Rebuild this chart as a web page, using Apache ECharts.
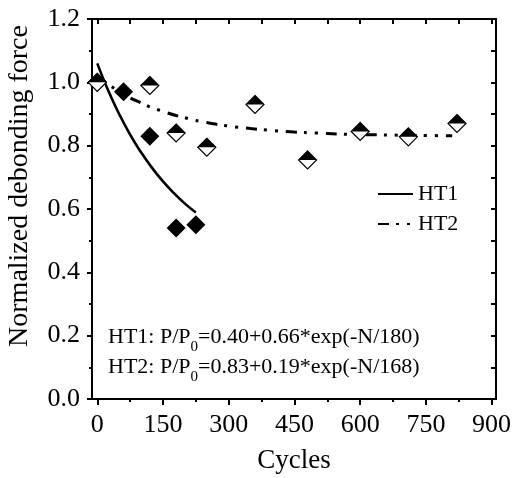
<!DOCTYPE html>
<html>
<head>
<meta charset="utf-8">
<script src="https://cdn.jsdelivr.net/npm/echarts@6/dist/echarts.min.js"></script>
<style>
  html, body { margin: 0; padding: 0; background: #fff; }
  #chart { width: 513px; height: 478px; }
</style>
</head>
<body>
<div id="chart"></div>
<script>
// Measured debonding force, normalised to the first cycle
const cyclesHT1 = [0, 60, 120, 180, 225];
const forceHT1  = [1.00, 0.97, 0.83, 0.54, 0.55];
const cyclesHT2 = [0, 120, 180, 250, 360, 480, 600, 710, 821];
const forceHT2  = [1.00, 0.99, 0.84, 0.795, 0.93, 0.755, 0.845, 0.828, 0.87];

// Exponential fits, P/P0 = 0.40+0.66*exp(-N/180) and 0.83+0.19*exp(-N/168), tabulated
const fitCyclesHT1 = [0, 25, 50, 75, 100, 125, 150, 175, 200, 225];
const fitForceHT1  = [1.060, 0.974, 0.900, 0.835, 0.779, 0.730, 0.687, 0.650, 0.617, 0.589];
const fitCyclesHT2 = [0, 50, 100, 150, 200, 250, 300, 350, 400, 450, 500, 550, 600, 650, 700, 750, 810];
const fitForceHT2  = [1.020, 0.971, 0.935, 0.908, 0.888, 0.873, 0.862, 0.854, 0.848, 0.843, 0.840, 0.837, 0.835, 0.834, 0.833, 0.832, 0.8315];

// Axis ticks
const xMajorTicks = [0, 150, 300, 450, 600, 750, 900];
const xMinorTicks = [75, 225, 375, 525, 675, 825];
const xTopTicks   = [0, 75, 150, 225, 300, 375, 450, 525, 600, 675, 750, 825, 900];
const yTickLabels = ['0.0', '0.2', '0.4', '0.6', '0.8', '1.0', '1.2'];

const zip = (a, b) => a.map((v, i) => [v, b[i]]);
const FONT = 'Liberation Serif';
const X_MIN = -12, X_MAX = 910;

const chart = echarts.init(document.getElementById('chart'), null, { renderer: 'canvas' });

const axisLineStyle = { color: '#000', width: 2 };

const formulaRich = {
  m: { fontFamily: FONT, fontSize: 22, fill: '#000', lineHeight: 30 },
  s: { fontFamily: FONT, fontSize: 15, fill: '#000', lineHeight: 30, padding: [20, 0, 0, 0] }
};

chart.setOption({
  animation: false,
  backgroundColor: '#fff',
  grid: { left: 92, right: 17, top: 19, bottom: 79, containLabel: false, outerBoundsMode: 'none' },
  legend: {
    data: ['HT1', 'HT2'],
    orient: 'vertical',
    left: 372,
    top: 178,
    itemWidth: 35,
    itemHeight: 10,
    itemGap: 8,
    itemStyle: { opacity: 0 },
    textStyle: { fontFamily: FONT, fontSize: 22, color: '#000' },
    selectedMode: false
  },
  xAxis: [
    {
      type: 'value', position: 'bottom', min: X_MIN, max: X_MAX,
      axisLine: { show: true, onZero: false, lineStyle: axisLineStyle },
      axisTick: { show: true, customValues: xMajorTicks, length: 6, lineStyle: axisLineStyle },
      axisLabel: { customValues: xMajorTicks, fontFamily: FONT, fontSize: 26, color: '#000', margin: 13 },
      splitLine: { show: false },
      name: 'Cycles', nameLocation: 'middle', nameGap: 48,
      nameTextStyle: { fontFamily: FONT, fontSize: 27, color: '#000' }
    },
    {
      type: 'value', position: 'bottom', min: X_MIN, max: X_MAX,
      axisLine: { show: false, onZero: false },
      axisTick: { show: true, customValues: xMinorTicks, length: 3, lineStyle: axisLineStyle },
      axisLabel: { show: false },
      splitLine: { show: false }
    },
    {
      type: 'value', position: 'top', min: X_MIN, max: X_MAX,
      axisLine: { show: true, onZero: false, lineStyle: axisLineStyle },
      axisTick: { show: true, inside: true, customValues: xTopTicks, length: 5, lineStyle: axisLineStyle },
      axisLabel: { show: false },
      splitLine: { show: false }
    }
  ],
  yAxis: [
    {
      type: 'value', position: 'left', min: 0, max: 1.2, interval: 0.2,
      axisLine: { show: true, onZero: false, lineStyle: axisLineStyle },
      axisTick: { show: true, length: 5, lineStyle: axisLineStyle },
      minorTick: { show: true, splitNumber: 2, length: 3, lineStyle: axisLineStyle },
      axisLabel: {
        fontFamily: FONT, fontSize: 26, color: '#000', margin: 12,
        formatter: v => yTickLabels[Math.round(v / 0.2)]
      },
      splitLine: { show: false },
      minorSplitLine: { show: false },
      name: 'Normalized debonding force', nameLocation: 'middle', nameGap: 58,
      nameTextStyle: { fontFamily: FONT, fontSize: 28, color: '#000', padding: [0, 0, 0, 46] }
    },
    {
      type: 'value', position: 'right', min: 0, max: 1.2, interval: 0.1,
      axisLine: { show: true, onZero: false, lineStyle: axisLineStyle },
      axisTick: { show: true, inside: true, length: 5, lineStyle: axisLineStyle },
      axisLabel: { show: false },
      splitLine: { show: false }
    }
  ],
  graphic: [
    {
      type: 'text', left: 108, top: 320,
      style: { text: '{m|HT1: P/P}{s|0}{m|=0.40+0.66*exp(-N/180)}', rich: formulaRich }
    },
    {
      type: 'text', left: 108, top: 350,
      style: { text: '{m|HT2: P/P}{s|0}{m|=0.83+0.19*exp(-N/168)}', rich: formulaRich }
    }
  ],
  series: [
    {
      name: 'HT1', type: 'line', data: zip(fitCyclesHT1, fitForceHT1),
      smooth: true, symbol: 'none',
      lineStyle: { color: '#000', width: 2.6 },
      itemStyle: { color: '#000' },
      z: 2
    },
    {
      name: 'HT2', type: 'line', data: zip(fitCyclesHT2, fitForceHT2),
      smooth: true, symbol: 'none',
      lineStyle: { color: '#000', width: 3, type: [11, 7, 3, 8, 3, 8], cap: 'butt' },
      itemStyle: { color: '#000' },
      z: 2
    },
    {
      name: 'HT1 data', type: 'scatter', data: zip(cyclesHT1, forceHT1),
      symbol: 'diamond', symbolSize: 19,
      itemStyle: { color: '#000', opacity: 1 },
      z: 3
    },
    {
      name: 'HT2 data', type: 'scatter', data: zip(cyclesHT2, forceHT2),
      symbol: 'diamond', symbolSize: 18,
      itemStyle: { color: '#fff', borderColor: '#000', borderWidth: 1.2, opacity: 1 },
      z: 4
    },
    {
      name: 'HT2 data top', type: 'scatter', data: zip(cyclesHT2, forceHT2),
      symbol: 'path://M0,1L1,0L2,1Z', symbolSize: [18, 9], symbolOffset: [0, -4.5],
      itemStyle: { color: '#000', opacity: 1 },
      z: 5
    }
  ]
});
</script>
</body>
</html>
